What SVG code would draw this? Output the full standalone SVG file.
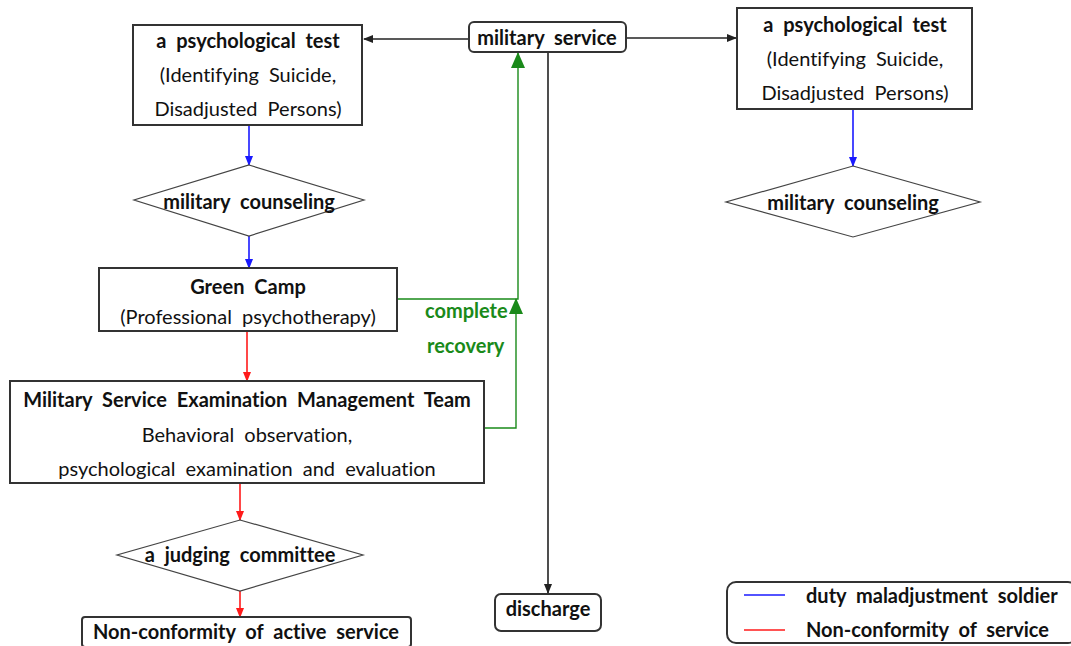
<svg xmlns="http://www.w3.org/2000/svg" width="1071" height="646" viewBox="0 0 1071 646">
<style>
text{font-family:Lato,"Open Sans","Liberation Sans",sans-serif;font-size:20px;text-anchor:middle;dominant-baseline:central;word-spacing:5px;fill:#111;font-variant-ligatures:none}
.b{font-weight:bold}
.g{fill:#1a8a1a;font-weight:bold;text-anchor:start}
.box{fill:#fff;stroke:#333;stroke-width:2}
.dia{fill:#fff;stroke:#444;stroke-width:1.2}
.k{stroke:#222;stroke-width:1.6;fill:none}
.bl{stroke:#1a1aff;stroke-width:1.6;fill:none}
.rd{stroke:#ff1a1a;stroke-width:1.6;fill:none}
.gr{stroke:#1a8a1a;stroke-width:1.4;fill:none}
.lt{text-anchor:start}
</style>
<defs>
<marker id="ak" markerWidth="10" markerHeight="8" refX="9" refY="4" orient="auto" markerUnits="userSpaceOnUse"><path d="M0,0L10,4L0,8z" fill="#222"/></marker>
<marker id="ab" markerWidth="10" markerHeight="8" refX="9" refY="4" orient="auto" markerUnits="userSpaceOnUse"><path d="M0,0L10,4L0,8z" fill="#1a1aff"/></marker>
<marker id="ar" markerWidth="10" markerHeight="8" refX="9" refY="4" orient="auto" markerUnits="userSpaceOnUse"><path d="M0,0L10,4L0,8z" fill="#ff1a1a"/></marker>
<marker id="ag" markerWidth="16" markerHeight="14" refX="15" refY="7" orient="auto" markerUnits="userSpaceOnUse"><path d="M0,0L16,7L0,14z" fill="#1a8a1a"/></marker>
</defs>
<g id="connectors">
<line class="k" x1="469" y1="39" x2="364" y2="39" marker-end="url(#ak)"/>
<line class="k" x1="626" y1="38" x2="736" y2="38" marker-end="url(#ak)"/>
<line class="k" x1="548" y1="52" x2="548" y2="593" marker-end="url(#ak)"/>
<line class="bl" x1="249" y1="125" x2="249" y2="165" marker-end="url(#ab)"/>
<line class="bl" x1="249" y1="236" x2="249" y2="268" marker-end="url(#ab)"/>
<line class="bl" x1="853" y1="110" x2="853" y2="166" marker-end="url(#ab)"/>
<line class="rd" x1="247" y1="331" x2="247" y2="381" marker-end="url(#ar)"/>
<line class="rd" x1="240" y1="484" x2="240" y2="520" marker-end="url(#ar)"/>
<line class="rd" x1="240" y1="591" x2="240" y2="617" marker-end="url(#ar)"/>
<polyline class="gr" points="397,299 518,299 518,53" marker-end="url(#ag)"/>
<polyline class="gr" points="484,428 516,428 516,299" marker-end="url(#ag)"/>
<text class="g" x="425" y="310">complete</text>
<text class="g" x="427" y="345">recovery</text>
</g>
<g id="military-service">
<rect class="box" x="469" y="22" width="157" height="30" rx="5"/>
<text class="b" x="547" y="37">military service</text>
</g>
<g id="test-left">
<rect class="box" x="133" y="25" width="229" height="100"/>
<text class="b" x="248" y="40">a psychological test</text>
<text x="248" y="74">(Identifying Suicide,</text>
<text x="248" y="108">Disadjusted Persons)</text>
</g>
<g id="test-right">
<rect class="box" x="737" y="8" width="235" height="101"/>
<text class="b" x="855" y="24">a psychological test</text>
<text x="855" y="58">(Identifying Suicide,</text>
<text x="855" y="92">Disadjusted Persons)</text>
</g>
<g id="counsel-left">
<polygon class="dia" points="249,165 364,200 249,236 134,200"/>
<text class="b" x="249" y="201">military counseling</text>
</g>
<g id="counsel-right">
<polygon class="dia" points="853,166 980,202 853,237 726,202"/>
<text class="b" x="853" y="202">military counseling</text>
</g>
<g id="green-camp">
<rect class="box" x="99" y="268" width="298" height="63"/>
<text class="b" x="248" y="286">Green Camp</text>
<text x="248" y="316">(Professional psychotherapy)</text>
</g>
<g id="msemt">
<rect class="box" x="10" y="381" width="474" height="102"/>
<text class="b" x="247" y="399">Military Service Examination Management Team</text>
<text x="247" y="434">Behavioral observation,</text>
<text x="247" y="468">psychological examination and evaluation</text>
</g>
<g id="judging">
<polygon class="dia" points="240,520 363,555 240,591 117,555"/>
<text class="b" x="240" y="554">a judging committee</text>
</g>
<g id="non-conformity">
<rect class="box" x="82" y="617" width="329" height="30" rx="3"/>
<text class="b" x="246" y="631">Non-conformity of active service</text>
</g>
<g id="discharge">
<rect class="box" x="495" y="594" width="106" height="37" rx="6"/>
<text class="b" x="548" y="608">discharge</text>
</g>
<g id="legend">
<rect class="box" x="727" y="582" width="350" height="61" rx="9"/>
<line class="bl" x1="744" y1="595" x2="785" y2="595"/>
<line class="rd" x1="744" y1="630" x2="785" y2="630"/>
<text class="b lt" x="806" y="595">duty maladjustment soldier</text>
<text class="b lt" x="806" y="629">Non-conformity of service</text>
</g>
</svg>
